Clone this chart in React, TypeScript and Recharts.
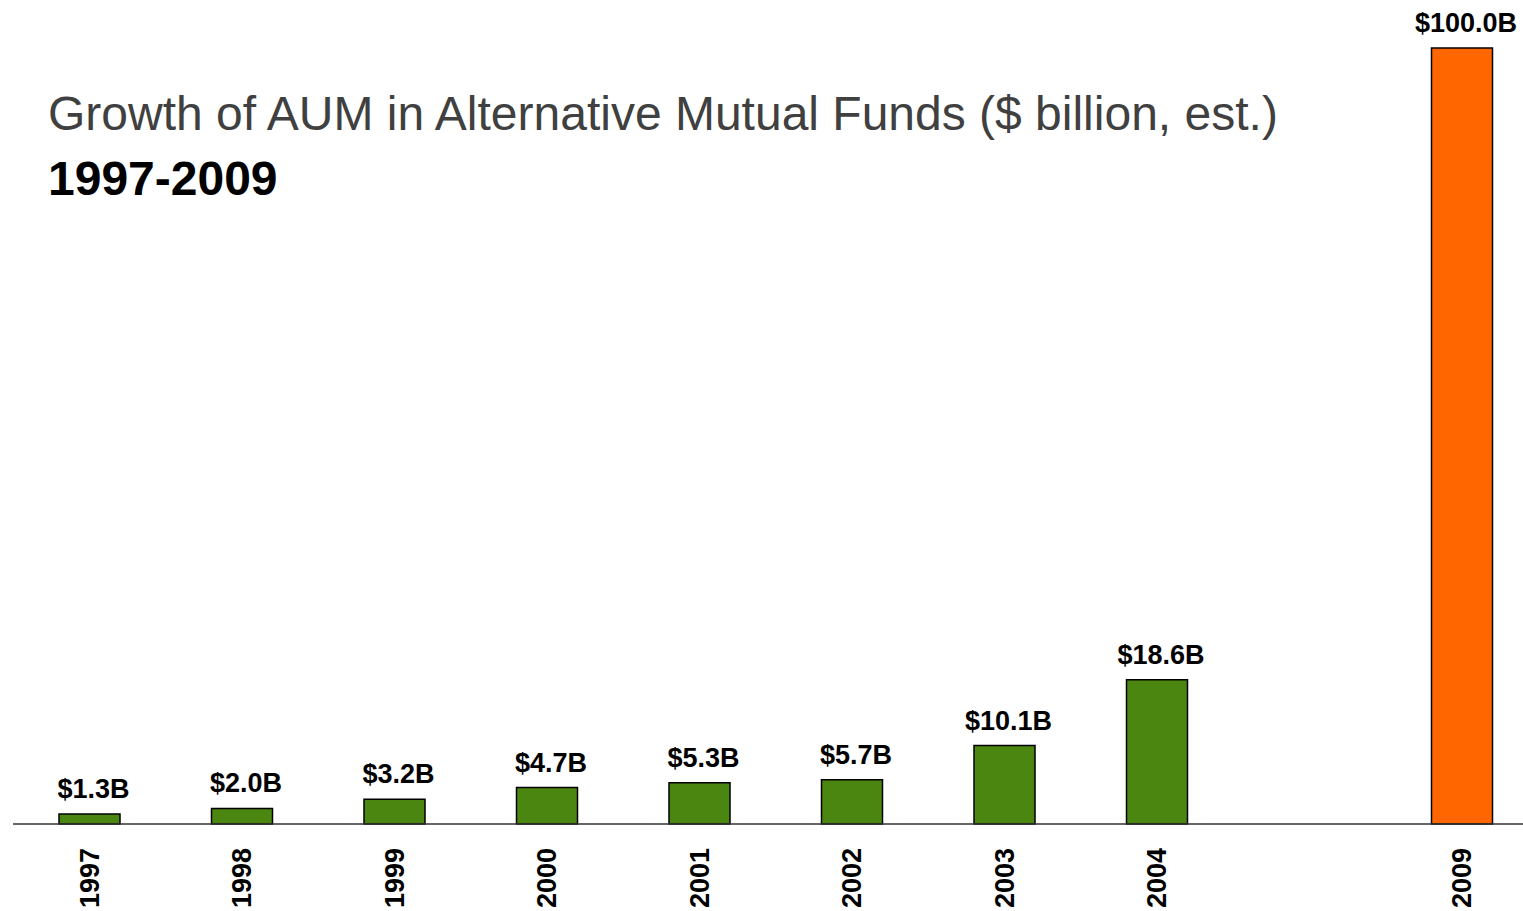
import React from "react";
import { BarChart, Bar, XAxis, YAxis, LabelList, Cell } from "recharts";

const years = ["1997", "1998", "1999", "2000", "2001", "2002", "2003", "2004", "", "2009"];
const aum = [1.3, 2.0, 3.2, 4.7, 5.3, 5.7, 10.1, 18.6, null, 100.0];
const highlight = [false, false, false, false, false, false, false, false, false, true];

const data = years.map((y, i) => ({ year: y, value: aum[i], hi: highlight[i] }));

const FONT = "'Liberation Sans', Arial, sans-serif";

const Tick = (props: any) => {
  const { x, y, payload } = props;
  if (!payload || !payload.value) return null;
  return (
    <g transform={`translate(${x},${y})`}>
      <text
        transform="rotate(-90)"
        x={-16}
        y={0}
        dy="0.36em"
        textAnchor="end"
        fontFamily={FONT}
        fontWeight="bold"
        fontSize={27}
        fill="#000"
      >
        {payload.value}
      </text>
    </g>
  );
};

export default function App() {
  return (
    <div style={{ position: "absolute", left: 0, top: 0, width: 1523, height: 911, overflow: "hidden", background: "#fff" }}>
      <BarChart
        width={1538}
        height={911}
        data={data}
        margin={{ top: 48, right: 0, bottom: 0, left: 13 }}
      >
        <YAxis hide domain={[0, 100]} />
        <XAxis
          dataKey="year"
          height={87}
          tickLine={false}
          axisLine={{ stroke: "#333", strokeWidth: 1.5 }}
          tick={<Tick />}
          interval={0}
        />
        <Bar dataKey="value" barSize={61} stroke="#000" strokeWidth={1.5} isAnimationActive={false}>
          {data.map((d, i) => (
            <Cell key={i} fill={d.hi ? "#ff6600" : "#4b8611"} />
          ))}
          <LabelList
            dataKey="value"
            position="top"
            offset={16}
            dx={4}
            formatter={(v: any) => (v == null ? "" : `$${Number(v).toFixed(1)}B`)}
            style={{ fontFamily: FONT, fontWeight: "bold", fontSize: 27, fill: "#000" }}
          />
        </Bar>
      </BarChart>
      <div style={{ position: "absolute", left: 48, top: 86, fontFamily: FONT, fontSize: 48, color: "#404040", lineHeight: "56px", whiteSpace: "nowrap" }}>
        Growth of AUM in Alternative Mutual Funds ($ billion, est.)
      </div>
      <div style={{ position: "absolute", left: 48, top: 151, fontFamily: FONT, fontSize: 48, fontWeight: "bold", color: "#000", lineHeight: "56px", whiteSpace: "nowrap" }}>
        1997-2009
      </div>
    </div>
  );
}
